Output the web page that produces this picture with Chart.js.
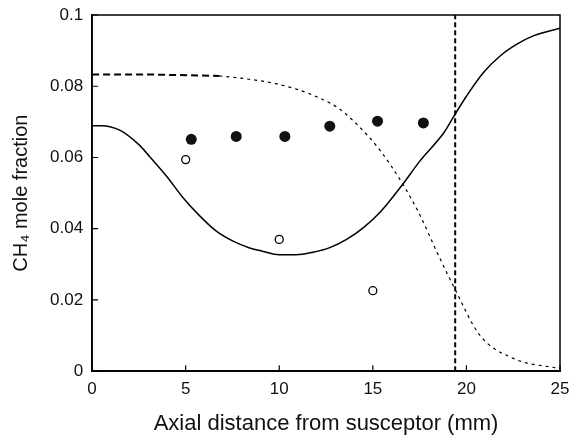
<!DOCTYPE html>
<html>
<head>
<meta charset="utf-8">
<script src="https://cdn.jsdelivr.net/npm/chart.js@4.4.0/dist/chart.umd.min.js"></script>
<style>
  html, body { margin: 0; padding: 0; background: #fff; }
  #wrap { width: 583px; height: 437px; }
</style>
</head>
<body>
<div id="wrap"><canvas id="ch4Chart"></canvas></div>
<script>
// CH4 mole fraction vs axial distance

// solid curve (model)
const solidX = [0, 0.5, 1.5, 2.5, 3.07, 3.97, 4.86, 5.75, 6.64, 7.53, 8.42, 9.1, 10.0, 10.9, 11.8, 12.7, 13.6, 14.5, 15.4, 16.6, 17.5, 18.8, 19.4, 20.0, 20.9, 21.8, 22.7, 23.6, 25];
const solidY = [0.0689, 0.0689, 0.0676, 0.0636, 0.0603, 0.0548, 0.0487, 0.0436, 0.0393, 0.0365, 0.0346, 0.0337, 0.0327, 0.0327, 0.0334, 0.0347, 0.0370, 0.0403, 0.0447, 0.0525, 0.0589, 0.0670, 0.0722, 0.0772, 0.0838, 0.0885, 0.0918, 0.0942, 0.0963];

// heavy dashed start of the second curve
const dashX = [0, 3, 6.8];
const dashY = [0.0833, 0.0833, 0.0829];

// fine dotted rest of the second curve
const dotX = [6.8, 8.2, 10.0, 11.8, 13.2, 14.3, 15.4, 16.6, 17.5, 18.4, 19.4, 20.7, 22.5, 25];
const dotY = [0.0829, 0.0821, 0.0805, 0.0775, 0.0737, 0.0685, 0.0619, 0.0525, 0.0440, 0.0337, 0.0229, 0.0102, 0.0036, 0.0007];

// measured points
const filledX = [5.3, 7.7, 10.3, 12.7, 15.25, 17.7];
const filledY = [0.0651, 0.0659, 0.0659, 0.0688, 0.0702, 0.0697];
const openX = [5.0, 10.0, 15.0];
const openY = [0.0594, 0.0370, 0.0226];

// vertical marker line
const vlineX = 19.4;

const xTicks = [0, 5, 10, 15, 20, 25];
const yTicks = [0, 0.02, 0.04, 0.06, 0.08, 0.1];

const pts = (xs, ys) => xs.map((x, i) => ({ x: x, y: ys[i] }));

// frame + inward ticks
const framePlugin = {
    id: 'frame',
    afterDraw(chart) {
        const c = chart.ctx, a = chart.chartArea;
        const sx = chart.scales.x, sy = chart.scales.y;
        c.save();
        c.strokeStyle = '#000';
        c.lineWidth = 1.5;
        c.strokeRect(a.left, a.top, a.right - a.left, a.bottom - a.top);
        c.lineWidth = 1.2;
        c.beginPath();
        xTicks.forEach(v => {
            const p = sx.getPixelForValue(v);
            c.moveTo(p, a.bottom); c.lineTo(p, a.bottom - 6);
        });
        yTicks.forEach(v => {
            const p = sy.getPixelForValue(v);
            c.moveTo(a.left, p); c.lineTo(a.left + 6, p);
        });
        c.stroke();
        c.restore();
    }
};

const ctx = document.getElementById('ch4Chart').getContext('2d');
const chart = new Chart(ctx, {
    type: 'scatter',
    data: {
        datasets: [
            {
                data: pts(solidX, solidY),
                showLine: true,
                borderColor: '#000',
                borderWidth: 1.5,
                pointRadius: 0,
                cubicInterpolationMode: 'monotone'
            },
            {
                data: pts(dashX, dashY),
                showLine: true,
                borderColor: '#000',
                borderWidth: 2,
                borderDash: [7, 4],
                pointRadius: 0
            },
            {
                data: pts(dotX, dotY),
                showLine: true,
                borderColor: '#000',
                borderWidth: 1.2,
                borderDash: [3, 4],
                pointRadius: 0,
                cubicInterpolationMode: 'monotone'
            },
            {
                data: [{ x: vlineX, y: 0 }, { x: vlineX, y: 0.1 }],
                showLine: true,
                borderColor: '#000',
                borderWidth: 2,
                borderDash: [5, 3],
                pointRadius: 0
            },
            {
                data: pts(filledX, filledY),
                showLine: false,
                pointRadius: 5.5,
                pointBackgroundColor: '#111',
                pointBorderColor: '#111',
                pointBorderWidth: 0
            },
            {
                data: pts(openX, openY),
                showLine: false,
                pointRadius: 4,
                pointBackgroundColor: '#fff',
                pointBorderColor: '#000',
                pointBorderWidth: 1.3
            }
        ]
    },
    options: {
        animation: false,
        responsive: true,
        maintainAspectRatio: false,
        plugins: {
            legend: { display: false },
            tooltip: { enabled: false }
        },
        layout: {
            padding: { top: 0, right: 23, bottom: 0, left: 9 }
        },
        scales: {
            x: {
                type: 'linear',
                min: 0,
                max: 25,
                afterBuildTicks: s => { s.ticks = xTicks.map(v => ({ value: v })); },
                grid: { display: false, drawTicks: false },
                border: { color: '#000', width: 1.5 },
                ticks: {
                    color: '#111',
                    padding: 8,
                    font: { family: 'Liberation Sans', size: 17 }
                },
                title: {
                    display: true,
                    text: 'Axial distance from susceptor (mm)',
                    color: '#111',
                    padding: { top: 3, bottom: 0 },
                    font: { family: 'Liberation Sans', size: 22 }
                }
            },
            y: {
                type: 'linear',
                min: 0,
                max: 0.1,
                afterBuildTicks: s => { s.ticks = yTicks.map(v => ({ value: v })); },
                afterFit: s => { s.paddingTop = 15; },
                grid: { display: false, drawTicks: false },
                border: { color: '#000', width: 1.5 },
                ticks: {
                    color: '#111',
                    padding: 9,
                    font: { family: 'Liberation Sans', size: 17 },
                    callback: v => String(v)
                },
                title: {
                    display: true,
                    text: 'CH₄ mole fraction',
                    color: '#111',
                    padding: { top: 0, bottom: 8 },
                    font: { family: 'Liberation Sans', size: 20 }
                }
            }
        }
    },
    plugins: [framePlugin]
});
</script>
</body>
</html>
